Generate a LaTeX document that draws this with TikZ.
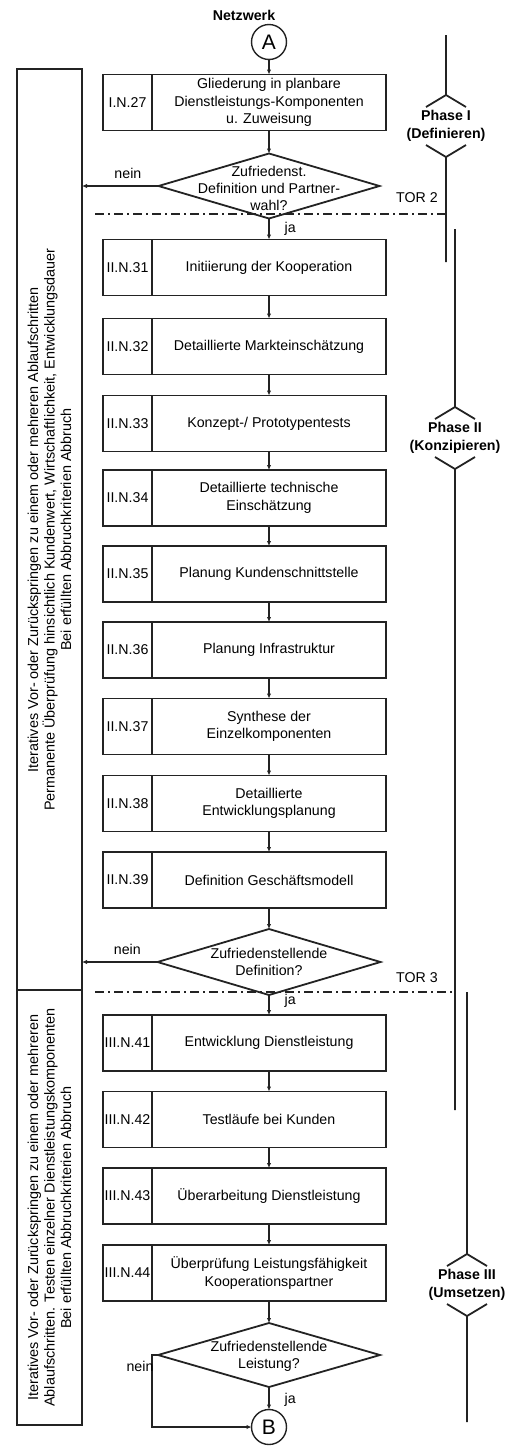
\documentclass[tikz,border=0pt]{standalone}
\usepackage{fontspec}
\setmainfont{Liberation Sans}
\usetikzlibrary{arrows.meta,positioning,shapes.geometric}
\definecolor{lin}{RGB}{35,35,35}
\tikzset{
  stepbox/.style={draw=lin, line width=1.8pt, outer sep=0pt, minimum width=234pt, minimum height=56pt, inner sep=2pt, align=center, font=\fontsize{14.2}{17.5}\selectfont},
  idbox/.style={draw=lin, line width=1.8pt, outer sep=0pt, minimum width=49pt, minimum height=56pt, inner sep=0pt, font=\fontsize{14.2}{17.5}\selectfont},
  decision/.style={draw=lin, line width=1.8pt, diamond, inner sep=0pt, outer sep=0pt, minimum width=221pt, minimum height=65pt},
  asktext/.style={align=center, inner sep=0pt, font=\fontsize{14.2}{17}\selectfont},
  joint/.style={draw=lin, line width=1.4pt, circle, inner sep=0pt, outer sep=0pt, minimum size=35pt, font=\fontsize{21}{21}\selectfont},
  sidebox/.style={draw=lin, line width=1.8pt, outer sep=0pt, minimum height=65pt, align=center, rotate=90, font=\fontsize{14.4}{16.5}\selectfont},
  flow/.style={draw=lin, line width=1.3pt, -{Latex[length=5pt,width=4.5pt]}},
  lab/.style={inner sep=0pt, font=\fontsize{14.2}{16}\selectfont},
  gate/.style={draw=lin, line width=1.3pt, dash pattern=on 9pt off 4pt on 2pt off 4pt},
  phase/.style={draw=lin, line width=1.8pt},
  phasetext/.style={align=center, inner sep=0pt, font=\bfseries\fontsize{14.2}{18}\selectfont}
}
% x, top of line, apex of marker, bottom of line, name, text
\def\phasemark(#1,#2,#3,#4)#5#6{%
  \draw[phase] (#1,#2) -- (#1,#3) (#1-20,#3+12) -- (#1,#3) -- (#1+20,#3+12);
  \node[phasetext] (#5) at (#1,#3+31) {#6};
  \draw[phase] (#1-20,#3+50) -- (#1,#3+62) -- (#1+20,#3+50) (#1,#3+62) -- (#1,#4);}

\begin{document}
\begin{tikzpicture}[x=1pt, y=-1pt]
			\useasboundingbox (0,0) rectangle (525,1446);
			
			%%%%% START %%%%%
			
			\node[lab, font=\bfseries\fontsize{14.2}{16}\selectfont] (net) at (244, 15) {Netzwerk};
			\node[joint] (A) at (269, 42) {A};
			
			\node[stepbox] (b27) at (269, 102.5) {Gliederung in planbare\\Dienstleistungs-Komponenten\\u. Zuweisung};
			\node[idbox, left=0pt of b27] (i27) {I.N.27};
			
			\node[decision] (d1) at (269, 186) {};
			\node[asktext] (d1t) at (269, 188) {Zufriedenst.\\Definition und Partner-\\wahl?};
			
			\node[stepbox] (b31) at (269, 267.5) {Initiierung der Kooperation};
			\node[idbox, left=0pt of b31] (i31) {II.N.31};
			\node[stepbox] (b32) at (269, 346.5) {Detaillierte Markteinschätzung};
			\node[idbox, left=0pt of b32] (i32) {II.N.32};
			\node[stepbox] (b33) at (269, 423.5) {Konzept-/ Prototypentests};
			\node[idbox, left=0pt of b33] (i33) {II.N.33};
			\node[stepbox] (b34) at (269, 498) {Detaillierte technische\\Einschätzung};
			\node[idbox, left=0pt of b34] (i34) {II.N.34};
			\node[stepbox] (b35) at (269, 574) {Planung Kundenschnittstelle};
			\node[idbox, left=0pt of b35] (i35) {II.N.35};
			\node[stepbox] (b36) at (269, 650) {Planung Infrastruktur};
			\node[idbox, left=0pt of b36] (i36) {II.N.36};
			\node[stepbox] (b37) at (269, 726.5) {Synthese der\\Einzelkomponenten};
			\node[idbox, left=0pt of b37] (i37) {II.N.37};
			\node[stepbox] (b38) at (269, 803.5) {Detaillierte\\Entwicklungsplanung};
			\node[idbox, left=0pt of b38] (i38) {II.N.38};
			\node[stepbox] (b39) at (269, 880) {Definition Geschäftsmodell};
			\node[idbox, left=0pt of b39] (i39) {II.N.39};
			
			\node[decision, minimum width=223pt, minimum height=66pt] (d2) at (269, 962) {};
			\node[asktext] (d2t) at (269, 962) {Zufriedenstellende\\Definition?};
			
			\node[stepbox] (b41) at (269, 1043) {Entwicklung Dienstleistung};
			\node[idbox, left=0pt of b41] (i41) {III.N.41};
			\node[stepbox] (b42) at (269, 1119.5) {Testläufe bei Kunden};
			\node[idbox, left=0pt of b42] (i42) {III.N.42};
			\node[stepbox] (b43) at (269, 1196) {Überarbeitung Dienstleistung};
			\node[idbox, left=0pt of b43] (i43) {III.N.43};
			\node[stepbox] (b44) at (269, 1273) {Überprüfung Leistungsfähigkeit\\Kooperationspartner};
			\node[idbox, left=0pt of b44] (i44) {III.N.44};
			
			\node[decision, minimum width=222pt, minimum height=64pt] (d3) at (269, 1355) {};
			\node[asktext] (d3t) at (269, 1356) {Zufriedenstellende\\Leistung?};
			
			\node[joint] (B) at (269, 1427) {B};
			
			% linke Kaesten
			\node[sidebox, minimum width=921pt] (lb1) at (49.5, 529.5) {Iteratives Vor- oder Zurückspringen zu einem oder mehreren Ablaufschritten\\Permanente Überprüfung hinsichtlich Kundenwert, Wirtschaftlichkeit, Entwicklungsdauer\\Bei erfüllten Abbruchkriterien Abbruch};
			\node[sidebox, minimum width=435pt] (lb2) at (49.5, 1207.5) {Iteratives Vor- oder Zurückspringen zu einem oder mehreren\\Ablaufschritten. Testen einzelner Dienstleistungskomponenten\\Bei erfüllten Abbruchkriterien Abbruch};
			
			% Ablauf
			\draw[flow] (A) -- (b27);
			\draw[flow] (b27) -- (d1);
			\draw[flow] (d1) -- node[lab, right=15pt] {ja} (b31);
			\draw[flow] (b31) -- (b32);
			\draw[flow] (b32) -- (b33);
			\draw[flow] (b33) -- (b34);
			\draw[flow] (b34) -- (b35);
			\draw[flow] (b35) -- (b36);
			\draw[flow] (b36) -- (b37);
			\draw[flow] (b37) -- (b38);
			\draw[flow] (b38) -- (b39);
			\draw[flow] (b39) -- (d2);
			\draw[flow] (d2) -- node[lab, pos=0.3, right=15pt] {ja} (b41);
			\draw[flow] (b41) -- (b42);
			\draw[flow] (b42) -- (b43);
			\draw[flow] (b43) -- (b44);
			\draw[flow] (b44) -- (d3);
			\draw[flow] (d3) -- node[lab, pos=0.55, right=15pt] {ja} (B);
			
			\draw[flow] (d1.west) -- node[lab, pos=0.4, above=7pt] {nein} (d1.west -| lb1.south);
			\draw[flow] (d2.west) -- node[lab, pos=0.4, above=7pt] {nein} (d2.west -| lb1.south);
			\draw[flow] (d3.west) -- ++(-6,0) node[lab, below=6pt, xshift=-12pt] {nein} |- (B.west);
			
			% Tore
			\draw[gate] (95, 214) -- (446, 214);
			\node[lab] (tor2) at (417, 198) {TOR 2};
			\draw[gate] (95, 992) -- (455, 992);
			\node[lab] (tor3) at (417, 978) {TOR 3};
			
			% Phasen
			\phasemark(446,35,95,262){ph1}{Phase I\\(Definieren)}
			\phasemark(455,229,407,1110){ph2}{Phase II\\(Konzipieren)}
			\phasemark(467,992,1254,1422){ph3}{Phase III\\(Umsetzen)}
			
			%%%%% END %%%%%
\end{tikzpicture}
\end{document}
